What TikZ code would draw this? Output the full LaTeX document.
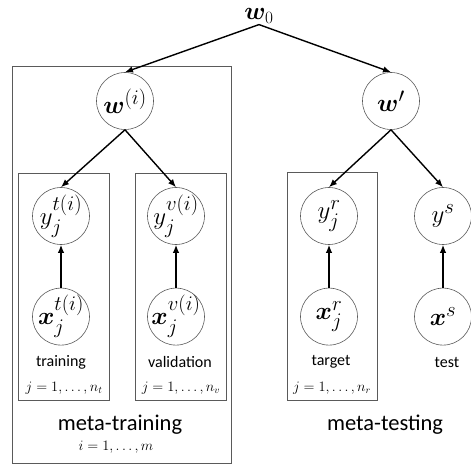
\documentclass[tikz,border=0pt]{standalone}
\usepackage{fontspec}
\setsansfont{Carlito}
\usepackage{amsmath}
\usepackage{bm}
\usetikzlibrary{arrows.meta, positioning}
\definecolor{plategray}{HTML}{5A5A5A}

\begin{document}
\begin{tikzpicture}[x=1pt, y=-1pt,
  var/.style={circle, draw=plategray, line width=0.6pt, minimum size=57pt, inner sep=-9pt, font=\fontsize{29}{29}\selectfont},
  plate/.style={draw=plategray, line width=0.8pt},
  arrow/.style={-{Latex[length=8pt, width=6.5pt]}, line width=1.4pt},
  setname/.style={font=\sffamily\fontsize{16}{18}\selectfont},
  idxlbl/.style={font=\fontsize{14.5}{16}\selectfont},
  grouplbl/.style={font=\sffamily\fontsize{22.5}{24}\selectfont}
]
  \useasboundingbox (0,0) rectangle (471,465);

  % Root
  \node[inner sep=1pt, font=\fontsize{27}{27}\selectfont] (w0) at (259,16) {$\bm{w}_0$};

  % Plates
  \draw[plate] (12,66) rectangle (231,463);
  \draw[plate] (18,173) rectangle (109,400);
  \draw[plate] (135,173) rectangle (226,400);
  \draw[plate] (287,172) rectangle (377,400);

  % Meta-training side
  \node[var] (wi) at (125,101) {$\bm{w}^{(i)}$};
  \node[var] (yt) at (61,216) {$y_j^{t(i)}$};
  \node[var] (yv) at (176,216) {$y_j^{v(i)}$};
  \node[var, below=43pt of yt] (xt) {$\bm{x}_j^{t(i)}$};
  \node[var, below=43pt of yv] (xv) {$\bm{x}_j^{v(i)}$};

  % Meta-testing side
  \node[var] (wp) at (391,101) {$\bm{w}'$};
  \node[var] (yr) at (329,216) {$y_j^{r}$};
  \node[var] (ys) at (443,216) {$y^{s}$};
  \node[var, below=43pt of yr] (xr) {$\bm{x}_j^{r}$};
  \node[var, below=43pt of ys] (xs) {$\bm{x}^{s}$};

  % Labels
  \node[setname] (ltrain) at (61,362) {training};
  \node[setname] (lval) at (180,362) {validation};
  \node[setname] (ltarget) at (331,362) {target};
  \node[setname] (ltest) at (447,362) {test};
  \node[idxlbl] (nt) at (64,388) {$j=1,\dots,n_t$};
  \node[idxlbl] (nv) at (181,388) {$j=1,\dots,n_v$};
  \node[idxlbl] (nr) at (332,388) {$j=1,\dots,n_r$};
  \node[grouplbl] (mtrain) at (120,425) {meta-training};
  \node[idxlbl] (m) at (116,447) {$i=1,\dots,m$};
  \node[grouplbl] (mtest) at (385,425) {meta-testing};

  % Arrows
  \draw[arrow] (w0.south) -- (wi.north);
  \draw[arrow] (w0.south) -- (wp.north);
  \draw[arrow] (wi.south) -- (yt.north);
  \draw[arrow] (wi.south) -- (yv.north);
  \draw[arrow] (wp.south) -- (yr.north);
  \draw[arrow] (wp.south) -- (ys.north);
  \draw[arrow] (xt) -- (yt);
  \draw[arrow] (xv) -- (yv);
  \draw[arrow] (xr) -- (yr);
  \draw[arrow] (xs) -- (ys);
\end{tikzpicture}
\end{document}
